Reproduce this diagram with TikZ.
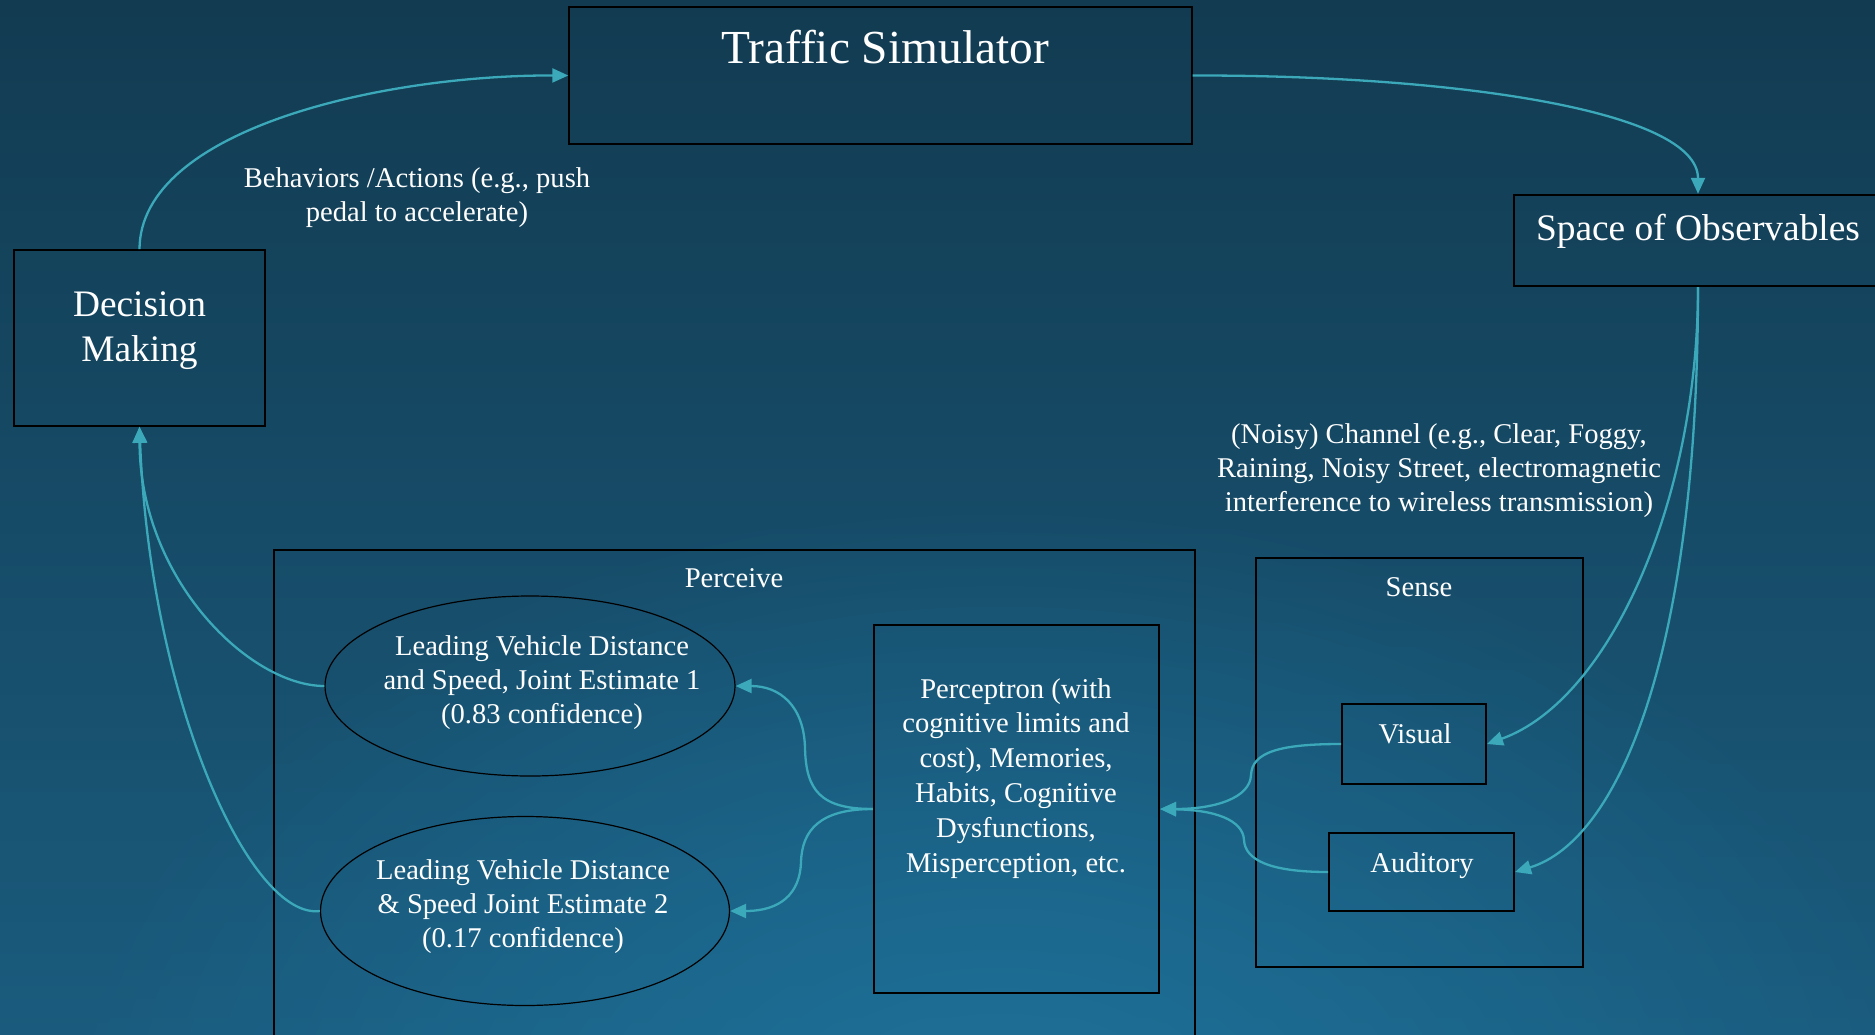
\documentclass[tikz,border=0pt]{standalone}
\usepackage{fontspec}
\setmainfont{Liberation Serif}
\usetikzlibrary{arrows.meta,shapes.geometric,fadings}
\definecolor{bgtop}{HTML}{123B51}
\definecolor{bgbot}{HTML}{1A5B7D}
\definecolor{bglight}{HTML}{1E729B}
\definecolor{edgec}{HTML}{3BA9B9}
\tikzfading[name=glowfade, inner color=transparent!0, outer color=transparent!100]
\begin{document}
\begin{tikzpicture}[x=0.5pt,y=-0.5pt,
  box/.style={draw=black, inner sep=0pt, line width=0.75pt},
  ell/.style={draw=black, ellipse, inner sep=0pt, line width=0.6pt},
  txt/.style={text=white, inner sep=0pt, align=center, font=\fontsize{14.3}{17}\selectfont},
  big/.style={text=white, inner sep=0pt, align=center, font=\fontsize{18.7}{22.5}\selectfont},
  huge/.style={text=white, inner sep=0pt, align=center, font=\fontsize{23.7}{28}\selectfont},
  edge/.style={draw=edgec, line width=1.15pt, -{Triangle[length=8pt,width=7pt]}}
]
\path[use as bounding box] (0,0) rectangle (1875,1034);
\clip (0,0) rectangle (1875,1034);
\shade[top color=bgtop, bottom color=bgbot] (0,0) rectangle (1875,1034);
\fill[bglight, path fading=glowfade] (1000,1150) ellipse [x radius=950, y radius=650];

% nodes
\node[box, line width=0.7pt, minimum width=311.5pt, minimum height=68.5pt] (traffic) at (880.5,75.5) {};
\node[huge, anchor=base] (traffictxt) at (885,63) {Traffic Simulator};

\node[box, line width=1.2pt, minimum width=184pt, minimum height=45.5pt] (space) at (1698,240.5) {};
\node[big, anchor=base] (spacetxt) at (1698,240) {Space of Observables};

\node[box, line width=0.8pt, minimum width=125.5pt, minimum height=88pt] (decision) at (139.5,338) {};
\node[big, anchor=base] (decisiontxt) at (139.5,361) {Decision\\Making};

\node[txt, anchor=base] (behlabel) at (417,221) {Behaviors /Actions (e.g., push\\pedal to accelerate)};
\node[txt, anchor=base] (chanlabel) at (1439,511) {(Noisy) Channel (e.g., Clear, Foggy,\\Raining, Noisy Street, electromagnetic\\interference to wireless transmission)};

\node[box, line width=0.6pt, minimum width=460.5pt, minimum height=247.5pt] (perceive) at (734.5,797.5) {};
\node[txt, anchor=base] (perceivetxt) at (734,587) {Perceive};

\node[box, line width=1pt, minimum width=163.5pt, minimum height=204.5pt] (sense) at (1419.5,762.5) {};
\node[txt, anchor=base] (sensetxt) at (1419,596) {Sense};

\node[box, line width=1pt, minimum width=72pt, minimum height=40pt] (visual) at (1414,744) {};
\node[txt, anchor=base] (visualtxt) at (1415,743) {Visual};

\node[box, line width=1pt, minimum width=92.5pt, minimum height=39pt] (auditory) at (1421.5,872) {};
\node[txt, anchor=base] (auditorytxt) at (1422,872) {Auditory};

\node[box, line width=1.1pt, minimum width=142.5pt, minimum height=184pt] (perceptron) at (1016.5,809) {};
\node[txt, anchor=base, font=\fontsize{14.3}{17.4}\selectfont] (perceptrontxt) at (1016,872) {Perceptron (with\\cognitive limits and\\cost), Memories,\\Habits, Cognitive\\Dysfunctions,\\Misperception, etc.};

\node[ell, minimum width=205pt, minimum height=90pt] (est1) at (530,686) {};
\node[txt, anchor=base] (est1txt) at (542,723) {Leading Vehicle Distance\\and Speed, Joint Estimate 1\\(0.83 confidence)};

\node[ell, minimum width=204.5pt, minimum height=94.5pt] (est2) at (525,911) {};
\node[txt, anchor=base] (est2txt) at (523,947) {Leading Vehicle Distance\\\& Speed Joint Estimate 2\\(0.17 confidence)};

% edges
\draw[edge] (decision.north) .. controls (140,130) and (380,75) .. (traffic.west);
\draw[edge] (traffic.east) .. controls (1450,75) and (1698,110) .. (space.north);
\draw[edge] (space.south) .. controls (1698,500) and (1610,700) .. (visual.east);
\draw[edge] (space.south) .. controls (1698,650) and (1620,840) .. (auditory.east);
\draw[edge] (visual.west) .. controls (1280,744) and (1252,752) .. (1251,775) .. controls (1250,798) and (1215,809) .. (perceptron.east);
\draw[edge] (auditory.west) .. controls (1270,872) and (1245,860) .. (1244,840) .. controls (1243,820) and (1215,810) .. (perceptron.east);
\draw[edge] (perceptron.west) .. controls (820,809) and (806,790) .. (805,748) .. controls (804,706) and (780,686) .. (est1.east);
\draw[edge] (perceptron.west) .. controls (820,809) and (802,830) .. (801,862) .. controls (800,894) and (780,911) .. (est2.east);
\draw[edge] (est1.west) .. controls (250,686) and (140,580) .. (decision.south);
\draw[edge] (est2.west) .. controls (250,920) and (150,700) .. (decision.south);
\end{tikzpicture}
\end{document}
